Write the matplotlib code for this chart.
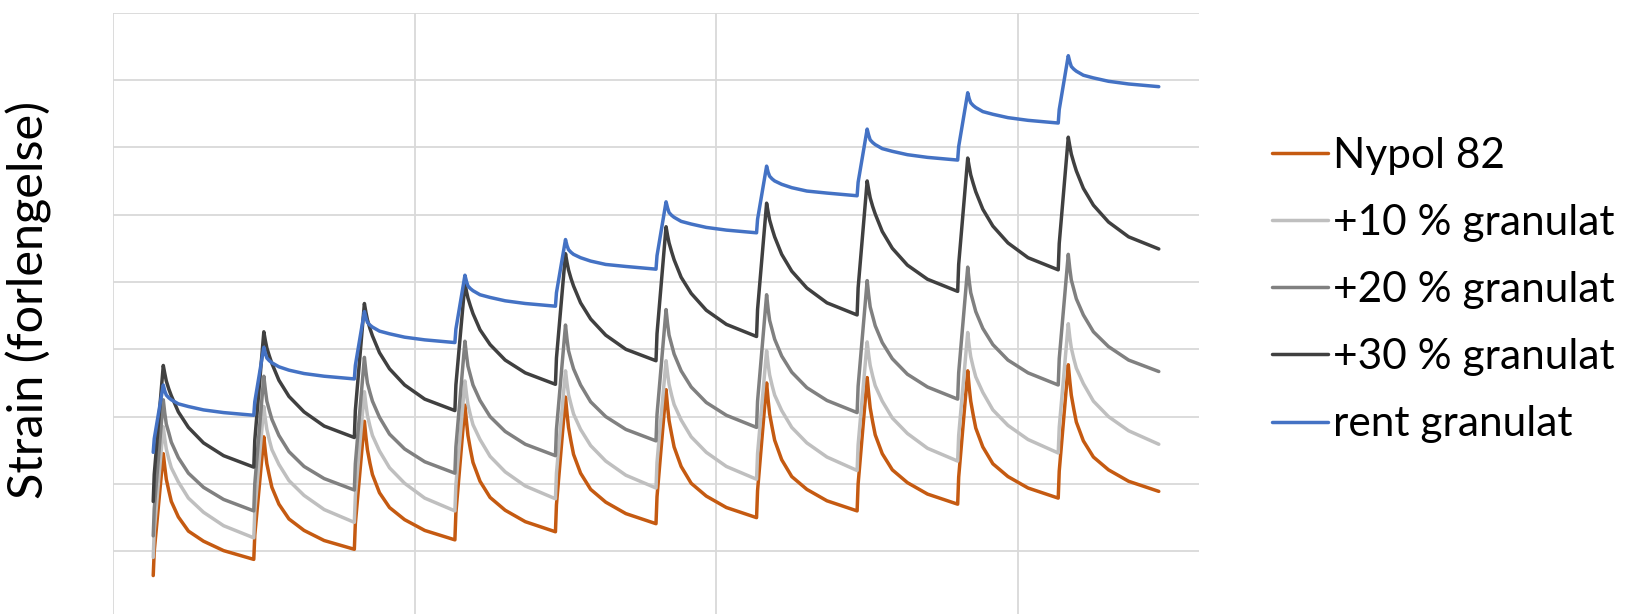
import matplotlib
matplotlib.use("Agg")
import matplotlib.pyplot as plt

plt.rcParams['font.family'] = ['Lato', 'DejaVu Sans']

labels = ['Nypol 82', '+10 % granulat', '+20 % granulat', '+30 % granulat', 'rent granulat']
colors = ['#C55A11', '#BFBFBF', '#808080', '#404040', '#4472C4']

# load cycles: start time of each cycle and sample times inside a cycle
cycle_starts = [4, 14, 24, 34, 44, 54, 64, 74, 84, 94]
offsets = [0.1, 1.0, 1.15, 1.3, 1.55, 1.8, 2.5, 3.5, 5.0, 7.0, 10.0]

# values read per cycle: jump, peak, recovery ..., end of cycle
nypol_start = -0.36
nypol = [
    [0.00, 1.45, 1.25, 1.07, 0.90, 0.74, 0.51, 0.30, 0.15, 0.01, -0.12],
    [0.24, 1.70, 1.48, 1.30, 1.12, 0.95, 0.70, 0.48, 0.31, 0.16, 0.03],
    [0.41, 1.93, 1.70, 1.51, 1.31, 1.14, 0.87, 0.65, 0.47, 0.31, 0.17],
    [0.57, 2.17, 1.93, 1.72, 1.51, 1.32, 1.04, 0.80, 0.61, 0.44, 0.29],
    [0.69, 2.29, 2.05, 1.84, 1.63, 1.44, 1.16, 0.92, 0.73, 0.56, 0.41],
    [0.81, 2.40, 2.15, 1.94, 1.74, 1.55, 1.26, 1.01, 0.82, 0.65, 0.50],
    [0.90, 2.50, 2.25, 2.04, 1.84, 1.65, 1.36, 1.11, 0.92, 0.75, 0.60],
    [1.00, 2.58, 2.34, 2.13, 1.92, 1.73, 1.45, 1.21, 1.02, 0.85, 0.70],
    [1.10, 2.68, 2.43, 2.23, 2.02, 1.83, 1.55, 1.30, 1.11, 0.94, 0.79],
    [1.19, 2.77, 2.53, 2.32, 2.11, 1.92, 1.64, 1.40, 1.21, 1.04, 0.89],
]

g10_start = -0.09
g10 = [
    [0.30, 1.85, 1.67, 1.52, 1.37, 1.24, 1.03, 0.79, 0.58, 0.38, 0.20],
    [0.59, 2.15, 1.96, 1.81, 1.65, 1.51, 1.29, 1.05, 0.83, 0.62, 0.43],
    [0.82, 2.37, 2.18, 2.02, 1.86, 1.72, 1.49, 1.24, 1.01, 0.79, 0.60],
    [0.99, 2.53, 2.34, 2.18, 2.02, 1.88, 1.66, 1.41, 1.18, 0.97, 0.78],
    [1.16, 2.68, 2.49, 2.33, 2.18, 2.04, 1.81, 1.57, 1.34, 1.13, 0.94],
    [1.32, 2.83, 2.64, 2.48, 2.32, 2.18, 1.95, 1.70, 1.47, 1.26, 1.07],
    [1.45, 2.98, 2.78, 2.62, 2.46, 2.32, 2.09, 1.84, 1.61, 1.40, 1.20],
    [1.58, 3.11, 2.92, 2.76, 2.60, 2.46, 2.23, 1.98, 1.75, 1.53, 1.34],
    [1.72, 3.25, 3.05, 2.89, 2.73, 2.59, 2.36, 2.10, 1.87, 1.66, 1.46],
    [1.84, 3.38, 3.18, 3.02, 2.86, 2.72, 2.49, 2.23, 2.00, 1.79, 1.59],
]

g20_start = 0.23
g20 = [
    [0.63, 2.25, 2.05, 1.89, 1.76, 1.62, 1.39, 1.16, 0.95, 0.77, 0.60],
    [1.00, 2.60, 2.40, 2.23, 2.09, 1.96, 1.72, 1.48, 1.26, 1.08, 0.91],
    [1.30, 2.88, 2.67, 2.50, 2.36, 2.23, 1.99, 1.74, 1.52, 1.33, 1.16],
    [1.55, 3.12, 2.92, 2.75, 2.61, 2.47, 2.24, 2.00, 1.78, 1.59, 1.42],
    [1.81, 3.36, 3.15, 2.98, 2.84, 2.71, 2.47, 2.22, 2.00, 1.81, 1.64],
    [2.03, 3.59, 3.38, 3.21, 3.07, 2.93, 2.68, 2.44, 2.21, 2.02, 1.84],
    [2.23, 3.81, 3.60, 3.43, 3.29, 3.15, 2.90, 2.66, 2.43, 2.24, 2.06],
    [2.45, 4.02, 3.81, 3.63, 3.49, 3.35, 3.10, 2.86, 2.63, 2.44, 2.26],
    [2.65, 4.22, 4.01, 3.84, 3.70, 3.56, 3.31, 3.07, 2.84, 2.65, 2.47],
    [2.86, 4.41, 4.20, 4.03, 3.89, 3.75, 3.51, 3.26, 3.04, 2.84, 2.67],
]

g30_start = 0.74
g30 = [
    [1.14, 2.76, 2.64, 2.53, 2.41, 2.31, 2.07, 1.84, 1.61, 1.42, 1.25],
    [1.65, 3.26, 3.13, 3.02, 2.90, 2.79, 2.54, 2.30, 2.07, 1.86, 1.69],
    [2.09, 3.68, 3.55, 3.44, 3.31, 3.20, 2.95, 2.71, 2.47, 2.26, 2.09],
    [2.47, 3.98, 3.86, 3.76, 3.64, 3.53, 3.29, 3.07, 2.84, 2.65, 2.48],
    [2.87, 4.42, 4.29, 4.18, 4.05, 3.94, 3.69, 3.45, 3.21, 3.00, 2.83],
    [3.23, 4.82, 4.69, 4.58, 4.45, 4.33, 4.07, 3.83, 3.58, 3.37, 3.19],
    [3.59, 5.17, 5.04, 4.92, 4.79, 4.67, 4.41, 4.16, 3.91, 3.69, 3.51],
    [3.91, 5.50, 5.37, 5.25, 5.12, 5.01, 4.75, 4.50, 4.25, 4.04, 3.86],
    [4.26, 5.84, 5.71, 5.59, 5.46, 5.34, 5.08, 4.83, 4.58, 4.36, 4.18],
    [4.57, 6.15, 6.02, 5.90, 5.77, 5.65, 5.39, 5.14, 4.89, 4.67, 4.49],
]

rent_start = 1.47
rent = [
    [1.67, 2.47, 2.38, 2.32, 2.28, 2.25, 2.19, 2.15, 2.10, 2.06, 2.02],
    [2.22, 3.03, 2.94, 2.87, 2.83, 2.80, 2.74, 2.69, 2.64, 2.60, 2.56],
    [2.76, 3.56, 3.47, 3.40, 3.36, 3.33, 3.27, 3.23, 3.18, 3.14, 3.10],
    [3.30, 4.10, 4.01, 3.94, 3.90, 3.87, 3.81, 3.77, 3.72, 3.68, 3.64],
    [3.84, 4.63, 4.54, 4.48, 4.44, 4.41, 4.36, 4.31, 4.26, 4.23, 4.19],
    [4.39, 5.19, 5.10, 5.03, 4.99, 4.96, 4.90, 4.86, 4.81, 4.77, 4.73],
    [4.93, 5.72, 5.63, 5.57, 5.53, 5.50, 5.45, 5.40, 5.35, 5.32, 5.28],
    [5.48, 6.27, 6.18, 6.11, 6.07, 6.04, 5.98, 5.94, 5.89, 5.85, 5.81],
    [6.01, 6.81, 6.72, 6.66, 6.62, 6.59, 6.53, 6.49, 6.44, 6.40, 6.36],
    [6.56, 7.36, 7.27, 7.20, 7.16, 7.13, 7.07, 7.03, 6.98, 6.94, 6.90],
]

starts = [nypol_start, g10_start, g20_start, g30_start, rent_start]
series = [nypol, g10, g20, g30, rent]

t = [cycle_starts[0]]
for s in cycle_starts:
    for o in offsets:
        t.append(s + o)

fig = plt.figure(figsize=(16.29, 6.14), dpi=100)
ax = fig.add_axes([113 / 1629, 0.0, (1199 - 113) / 1629, 1 - 12.6 / 614])

for start, cycles, lab, col in zip(starts, series, labels, colors):
    y = [start]
    for c in cycles:
        y.extend(c)
    ax.plot(t, y, color=col, lw=2.5, label=lab, solid_joinstyle='round',
            solid_capstyle='round', zorder=3)

ax.set_xlim(0, 108)
ax.set_ylim(-0.931, 8)
ax.set_xticks([0, 30, 60, 90])
ax.set_yticks(range(0, 9))
ax.grid(True, color='#D9D9D9', lw=1.3)
ax.set_axisbelow(True)
ax.tick_params(length=0, labelleft=False, labelbottom=False)
for sp in ax.spines.values():
    sp.set_visible(False)

fig.text(29 / 1629, 1 - 300 / 614, 'Strain (forlengelse)', rotation=90,
         ha='center', va='center', fontsize=35)

leg = fig.legend(loc='center left', bbox_to_anchor=(1272 / 1629, 1 - 290 / 614),
                 frameon=False, fontsize=30.5, handlelength=1.32, handletextpad=0.12,
                 labelspacing=0.69, borderpad=0, borderaxespad=0)
for h in leg.get_lines():
    h.set_linewidth(2.5)

fig.savefig('out.png', dpi=100)
